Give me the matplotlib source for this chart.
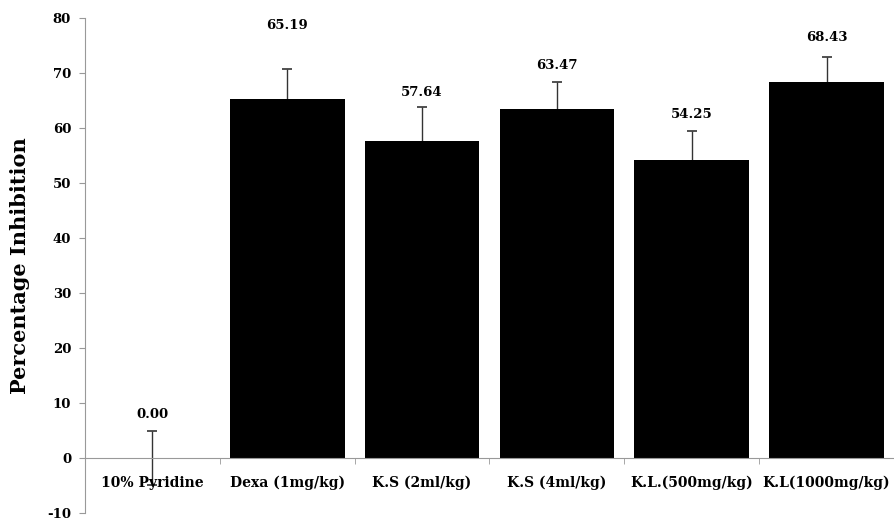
import matplotlib
matplotlib.use("Agg")
import matplotlib.pyplot as plt
import numpy as np

# values
groups = ["10% Pyridine", "Dexa (1mg/kg)", "K.S (2ml/kg)", "K.S (4ml/kg)",
          "K.L.(500mg/kg)", "K.L(1000mg/kg)"]
inhibition = [0.00, 65.19, 57.64, 63.47, 54.25, 68.43]
sem = [4.9, 5.5, 6.1, 4.95, 5.25, 4.4]
label_y = [8.0, 78.7, 66.4, 71.3, 62.4, 76.4]
y_ticks = list(range(-10, 81, 10))

plt.rcParams['font.family'] = ['DejaVu Serif']
plt.rcParams['font.weight'] = 'bold'

fig = plt.figure(figsize=(8.94, 5.2), dpi=100)
ax = fig.add_axes([85 / 894, 7 / 520, 809 / 894, 495 / 520])

x = np.arange(len(groups))
ax.bar(x, inhibition, width=0.85, color="black", zorder=2)
# error bars sit behind the bars, so only the upper half shows (as in Excel)
ax.errorbar(x, inhibition, yerr=sem, fmt="none", ecolor="#333333",
            elinewidth=1.0, capsize=3.5, capthick=1.2, zorder=1)

for xi, v, ly in zip(x, inhibition, label_y):
    ax.text(xi, ly, f"{v:.2f}", ha="center", va="center",
            fontsize=9.5, fontweight="bold")

ax.set_xlim(-0.5, len(groups) - 0.5)
ax.set_ylim(-10, 80)
ax.set_yticks(y_ticks)
ax.set_yticklabels([str(t) for t in y_ticks], fontsize=9.5, fontweight="bold")

ax.set_xticks(x)
ax.set_xticks(np.arange(0.5, len(groups) - 0.5, 1), minor=True)
ax.set_xticklabels(groups, fontsize=9.5, fontweight="bold")
ax.tick_params(axis="x", which="major", length=0, pad=13)
ax.tick_params(axis="x", which="minor", length=4, color="#999999", direction="out")
ax.tick_params(axis="y", length=4, color="#999999", pad=6)

ax.spines["top"].set_visible(False)
ax.spines["right"].set_visible(False)
ax.spines["bottom"].set_position(("data", 0))
ax.spines["bottom"].set_color("#999999")
ax.spines["left"].set_color("#999999")

ax.set_ylabel("Percentage Inhibition", fontsize=15, fontweight="bold", labelpad=12)

fig.savefig("out.png", dpi=100)
